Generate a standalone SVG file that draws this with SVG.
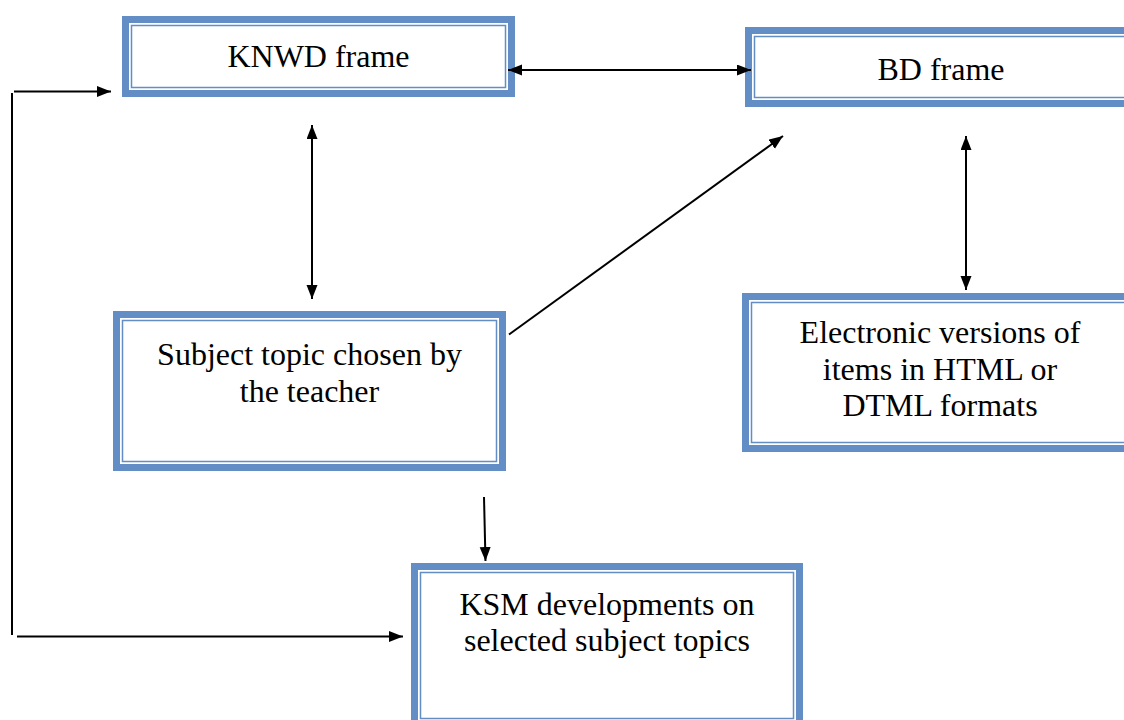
<svg xmlns="http://www.w3.org/2000/svg" width="1124" height="720" viewBox="0 0 1124 720">
<style>
.outer{fill:#fff;stroke:#628DC5;stroke-width:7}
.inner{fill:none;stroke:#628DC5;stroke-width:1.5}
.lbl{font-family:"Liberation Serif","Times New Roman",serif;font-size:32px;fill:#000;text-anchor:middle}
.con{stroke:#000;stroke-width:2;fill:none}
</style>
<defs>
<marker id="ah" markerUnits="userSpaceOnUse" markerWidth="15" markerHeight="12" refX="14" refY="5.5" orient="auto-start-reverse" viewBox="0 0 15 12">
<path d="M0,0 L14,5.5 L0,11 z" fill="#000"/>
</marker>
</defs>
<rect width="1124" height="720" fill="#fff"/>
<g id="knwd">
<rect class="outer" x="125.5" y="19.5" width="386" height="74"/>
<rect class="inner" x="131.5" y="25.5" width="374" height="62"/>
<text class="lbl" x="318.5" y="67">KNWD frame</text>
</g>
<g id="bd">
<rect class="outer" x="748.5" y="30.5" width="386" height="73"/>
<rect class="inner" x="754.5" y="36.5" width="374" height="61"/>
<text class="lbl" x="941" y="80">BD frame</text>
</g>
<g id="subject">
<rect class="outer" x="116.5" y="314.5" width="386" height="153"/>
<rect class="inner" x="122.5" y="320.5" width="374" height="141"/>
<text class="lbl" x="309.5" y="365">Subject topic chosen by</text>
<text class="lbl" x="309.5" y="402">the teacher</text>
</g>
<g id="electronic">
<rect class="outer" x="745.5" y="296.5" width="389" height="152"/>
<rect class="inner" x="751.5" y="302.5" width="377" height="140"/>
<text class="lbl" x="940" y="343">Electronic versions of</text>
<text class="lbl" x="940" y="379.5">items in HTML or</text>
<text class="lbl" x="940" y="416">DTML formats</text>
</g>
<g id="ksm">
<rect class="outer" x="414.5" y="566.5" width="385" height="160"/>
<rect class="inner" x="420.5" y="572.5" width="373" height="146"/>
<text class="lbl" x="607" y="615">KSM developments on</text>
<text class="lbl" x="607" y="651">selected subject topics</text>
</g>
<g id="connectors">
<line class="con" x1="508" y1="70" x2="751" y2="70" marker-start="url(#ah)" marker-end="url(#ah)"/>
<line class="con" x1="312" y1="125" x2="312" y2="299" marker-start="url(#ah)" marker-end="url(#ah)"/>
<line class="con" x1="509" y1="334.5" x2="783" y2="136" marker-end="url(#ah)"/>
<line class="con" x1="966" y1="136" x2="966" y2="290" marker-start="url(#ah)" marker-end="url(#ah)"/>
<line class="con" x1="484" y1="497" x2="485.5" y2="561" marker-end="url(#ah)"/>
<line class="con" x1="12" y1="93" x2="12" y2="635"/>
<line class="con" x1="14" y1="91.5" x2="111" y2="91.5" marker-end="url(#ah)"/>
<line class="con" x1="17" y1="636.5" x2="403" y2="636.5" marker-end="url(#ah)"/>
</g>
</svg>
